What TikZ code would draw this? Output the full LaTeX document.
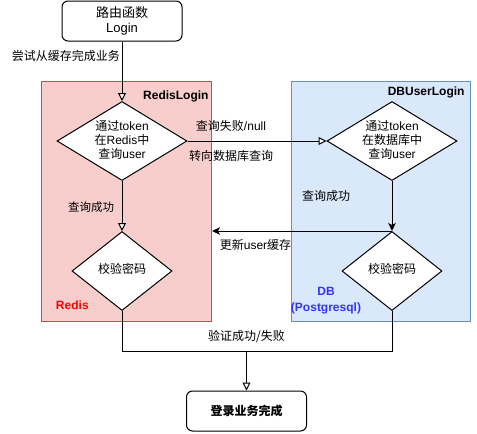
\documentclass[tikz,border=0pt]{standalone}
\usepackage{fontspec}
\setmainfont{Liberation Sans}
\newfontfamily\cjk{Noto Sans CJK SC}
\usetikzlibrary{shapes.geometric,arrows.meta}
\definecolor{redfill}{HTML}{F8CECC}
\definecolor{redline}{HTML}{B85450}
\definecolor{bluefill}{HTML}{DAE8FC}
\definecolor{blueline}{HTML}{6C8EBF}
\definecolor{dbblue}{HTML}{3333FF}
\begin{document}
\begin{tikzpicture}[x=1pt,y=-1pt,line width=1pt,
  every node/.style={font=\fontsize{12}{14}\selectfont,inner sep=0pt},
  proc/.style={draw,rounded corners=6pt,minimum width=120pt,minimum height=40pt,align=center,fill=white},
  dia/.style={draw,diamond,fill=white,inner sep=0pt},
  bigdia/.style={dia,minimum width=130pt,minimum height=79pt},
  smalldia/.style={dia,minimum width=100pt,minimum height=79pt},
  lbl/.style={align=center},
  boldlbl/.style={font=\fontsize{12}{16}\selectfont\bfseries},
  smalllbl/.style={font=\fontsize{11.5}{14}\selectfont},
  openarrow/.style={-{Triangle[length=8pt,width=8pt,fill=white]}},
  fillarrow/.style={-{Stealth[length=8pt,width=7.5pt,inset=2pt]}},
  container/.style={line width=1pt}
]
\useasboundingbox (0,0) rectangle (477,434);
% containers
\path[container,fill=redfill,draw=redline] (41,81) rectangle (211,321);
\path[container,fill=bluefill,draw=blueline] (291,81) rectangle (470,321);
% container labels
\node[boldlbl,anchor=east] (lred) at (209,96) {RedisLogin};
\node[boldlbl,anchor=east] (lblue) at (465,92.5) {DBUserLogin};
\node[boldlbl,anchor=west,text=red] (lr) at (55.5,305) {Redis};
\node[boldlbl,lbl,text=dbblue] (ldb) at (326,301) {DB\\(Postgresql)};
% nodes
\node[proc,font=\fontsize{13}{15}\selectfont] (login) at (122,21) {{\cjk 路由函数}\\Login};
\node[bigdia] (d1) at (122,141) {};
\node[lbl] (d1t) at (122,139.5) {{\cjk 通过}token\\{\cjk 在}Redis{\cjk 中}\\{\cjk 查询}user};
\node[smalldia] (d2) at (122,271) {};
\node[lbl] (d2t) at (122,269) {\cjk 校验密码};
\node[bigdia] (d3) at (392,141) {};
\node[lbl] (d3t) at (392,139.5) {{\cjk 通过}token\\{\cjk 在数据库中}\\{\cjk 查询}user};
\node[smalldia] (d4) at (392,271) {};
\node[lbl] (d4t) at (392,269) {\cjk 校验密码};
\node[proc] (done) at (246.5,411) {{\cjk\bfseries 登录业务完成}};
% edge labels
\node (l0) at (66,56) {\cjk 尝试从缓存完成业务};
\node (l1) at (231,126) {{\cjk 查询失败}/null};
\node (l2) at (231,156) {\cjk 转向数据库查询};
\node[smalllbl] (l3) at (91,207) {\cjk 查询成功};
\node (l4) at (326,196) {\cjk 查询成功};
\node (l5) at (255.5,245) {{\cjk 更新}user{\cjk 缓存}};
\node (l6) at (246.5,336) {\cjk 验证成功/失败};
% connectors
\coordinate (upd) at (212,0);
\path (d2.south) ++(0,40) coordinate (jl);
\draw[openarrow] (login.south) -- (d1.north);
\draw[openarrow] (d1.south) -- (d2.north);
\draw[openarrow] (d1.east) -- (d3.west);
\draw[fillarrow] (d3.south) -- (d4.north);
\draw[fillarrow] (d4.north) -- (d4.north -| upd);
\draw (d2.south) -- (jl) -- (jl -| d4.south) -- (d4.south);
\draw[openarrow] (jl -| done.north) -- (done.north);
\end{tikzpicture}
\end{document}
